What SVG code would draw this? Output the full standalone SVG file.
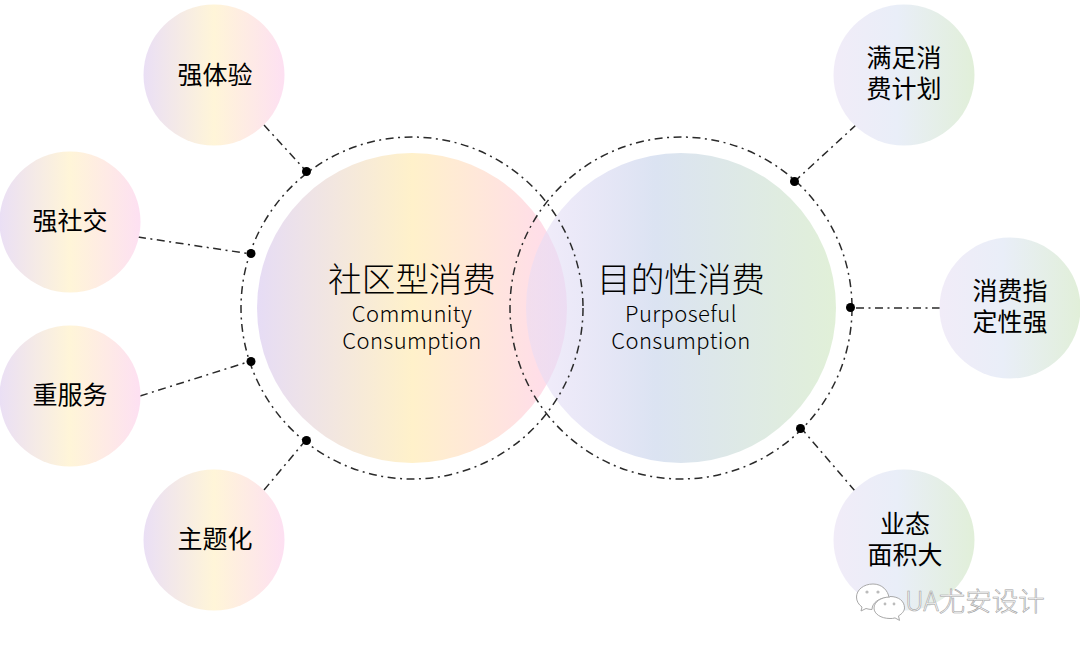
<svg xmlns="http://www.w3.org/2000/svg" width="1080" height="649" viewBox="0 0 1080 649">
<style>
text{font-family:"Noto Sans CJK SC","Noto Sans",sans-serif;fill:#000;text-anchor:middle}
.s{font-size:25px;font-weight:400}
.b{font-size:33.6px;font-weight:300}
.e{font-size:22px;font-weight:300;letter-spacing:.4px}
.d{fill:none;stroke:#2a2a2a;stroke-width:1.5;stroke-dasharray:8 4.500 2 4.500}
.dot{fill:#000}
.w{font-family:"Noto Sans CJK SC","Noto Sans",sans-serif;font-size:26.500px;font-weight:300;fill:#fff;stroke:#a0a0a0;stroke-width:.6px;text-anchor:start}
.wi{fill:#fff;stroke:#a8a8a8;stroke-width:1}
</style>
<defs>
<linearGradient id="lg"><stop offset="0" stop-color="#e6dcf5"/><stop offset=".5" stop-color="#fff1ca"/><stop offset="1" stop-color="#ffdaee"/></linearGradient>
<linearGradient id="rg"><stop offset="0" stop-color="#e6dcf6" stop-opacity=".5"/><stop offset=".42" stop-color="#dbe3f2"/><stop offset="1" stop-color="#e1f0d8"/></linearGradient>
<linearGradient id="lgs"><stop offset="0" stop-color="#eadff5"/><stop offset=".5" stop-color="#fff5d8"/><stop offset="1" stop-color="#fde0f2"/></linearGradient>
<linearGradient id="rgs"><stop offset="0" stop-color="#f1ecf8"/><stop offset=".45" stop-color="#e9eef8"/><stop offset="1" stop-color="#e1efd9"/></linearGradient>
</defs>
<rect width="1080" height="649" fill="#fff"/>
<g id="node-community">
<circle cx="412" cy="308" r="155" fill="url(#lg)"/>
</g>
<g id="node-purposeful">
<circle cx="681" cy="308" r="155" fill="url(#rg)"/>
</g>
<g id="connectors">
<circle class="d" cx="412" cy="308" r="171"/>
<circle class="d" cx="681" cy="308" r="171"/>
<path class="d" d="M264 125L306 171"/>
<path class="d" d="M138 237L251 254"/>
<path class="d" d="M140 396L251 361"/>
<path class="d" d="M264 490L306 440"/>
<path class="d" d="M856 125L795 181"/>
<path class="d" d="M940 308L851 308"/>
<path class="d" d="M855 491L801 428"/>
<circle class="dot" cx="306.500" cy="171.500" r="4.500"/>
<circle class="dot" cx="251" cy="253.500" r="4.500"/>
<circle class="dot" cx="251" cy="361.500" r="4.500"/>
<circle class="dot" cx="306.500" cy="440.500" r="4.500"/>
<circle class="dot" cx="794.500" cy="181.500" r="4.500"/>
<circle class="dot" cx="850.500" cy="307.500" r="4.500"/>
<circle class="dot" cx="800.500" cy="428.500" r="4.500"/>
</g>
<g id="label-community">
<text class="b" x="412" y="292">社区型消费</text>
<text class="e" x="412" y="322">Community</text>
<text class="e" x="412" y="349">Consumption</text>
</g>
<g id="label-purposeful">
<text class="b" x="681" y="292">目的性消费</text>
<text class="e" x="681" y="322">Purposeful</text>
<text class="e" x="681" y="349">Consumption</text>
</g>
<g id="n1"><circle cx="214" cy="75" r="70.500" fill="url(#lgs)"/><text class="s" x="215" y="84">强体验</text></g>
<g id="n2"><circle cx="70" cy="222" r="70.500" fill="url(#lgs)"/><text class="s" x="70" y="230">强社交</text></g>
<g id="n3"><circle cx="70" cy="396" r="70.500" fill="url(#lgs)"/><text class="s" x="70" y="404">重服务</text></g>
<g id="n4"><circle cx="214" cy="540" r="70.500" fill="url(#lgs)"/><text class="s" x="215" y="548">主题化</text></g>
<g id="n5"><circle cx="904" cy="75" r="70.500" fill="url(#rgs)"/><text class="s" x="904" y="67">满足消</text><text class="s" x="904" y="98">费计划</text></g>
<g id="n6"><circle cx="1010" cy="308" r="70.500" fill="url(#rgs)"/><text class="s" x="1010" y="300">消费指</text><text class="s" x="1010" y="331">定性强</text></g>
<g id="n7"><circle cx="904" cy="540" r="70.500" fill="url(#rgs)"/><text class="s" x="905" y="533">业态</text><text class="s" x="905" y="564">面积大</text></g>
<g id="watermark">
<path class="wi" d="M873 584c-9.500 0-16.500 6-16.500 13 0 4 2 7.500 5.500 10l-1 4 5-2.500c2 .6 4 1 6 1 0-7 7.500-12 17-12-1-7-7-13.500-16-13.500z"/>
<path class="wi" d="M890 597c-9 0-16 5-16 11s7 10.500 16 10.500c2 0 3 0 5-.6l4.500 2.500-1-4.500c3.500-2 6-5 6-8 0-7-6-11.400-14.500-11.400z"/>
<circle cx="867" cy="592" r="1.600" fill="#bbb"/><circle cx="878" cy="592" r="1.600" fill="#bbb"/>
<circle cx="885" cy="604" r="1.400" fill="#bbb"/><circle cx="894" cy="604" r="1.400" fill="#bbb"/>
<text class="w" x="905" y="611">UA尤安设计</text>
</g>
</svg>
